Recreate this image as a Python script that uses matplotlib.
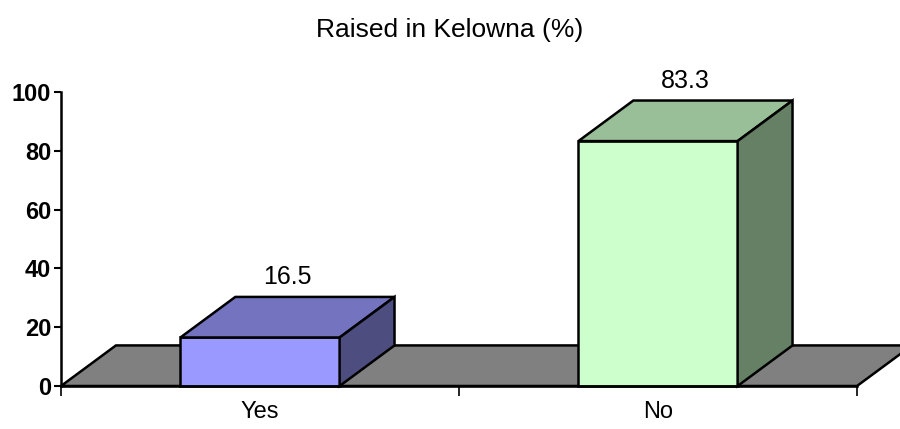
import matplotlib.pyplot as plt
from matplotlib.patches import Polygon, Rectangle

plt.rcParams['font.family'] = ['Liberation Sans', 'DejaVu Sans']

categories = ['Yes', 'No']
values = [16.5, 83.3]
front_colors = ['#9999FF', '#CCFFCC']
top_colors = ['#7373BF', '#99BF99']
side_colors = ['#4D4D80', '#668066']

fig = plt.figure(figsize=(9, 4.29), dpi=100)
ax = fig.add_axes([61 / 900, 43 / 429, 796 / 900, 294 / 429])
ax.set_xlim(0, len(categories))
ax.set_ylim(0, 100)

# depth of the 3d effect, in data units
dx = 0.138
dy = 13.8
lw = 1.8
bw = 0.4

floor = Polygon([(0, 0), (2, 0), (2 + dx, dy), (dx, dy)], closed=True,
                facecolor='#808080', edgecolor='black', lw=lw, clip_on=False, zorder=1)
ax.add_patch(floor)

for i, v in enumerate(values):
    x0 = i + 0.5 - bw / 2
    x1 = i + 0.5 + bw / 2
    ax.add_patch(Rectangle((x0, 0), bw, v, facecolor=front_colors[i], edgecolor='black',
                           lw=lw, clip_on=False, zorder=3))
    ax.add_patch(Polygon([(x0, v), (x1, v), (x1 + dx, v + dy), (x0 + dx, v + dy)], closed=True,
                         facecolor=top_colors[i], edgecolor='black', lw=lw, clip_on=False, zorder=3))
    ax.add_patch(Polygon([(x1, 0), (x1 + dx, dy), (x1 + dx, v + dy), (x1, v)], closed=True,
                         facecolor=side_colors[i], edgecolor='black', lw=lw, clip_on=False, zorder=3))
    ax.annotate(str(v), (i + 0.5 + dx / 2, v + dy), xytext=(0, 9), textcoords='offset points',
                ha='center', va='baseline', fontsize=18)

ax.spines['top'].set_visible(False)
ax.spines['right'].set_visible(False)
ax.spines['left'].set_linewidth(lw)
ax.spines['bottom'].set_linewidth(lw)
ax.spines['bottom'].set_zorder(4)

ax.set_yticks(range(0, 101, 20))
ax.set_yticklabels([str(t) for t in range(0, 101, 20)], fontsize=17, fontweight='bold')
ax.tick_params(axis='y', length=5, width=1.5, pad=2)

ax.set_xticks([0, 1, 2])
ax.set_xticklabels(['', '', ''])
ax.tick_params(axis='x', which='major', length=7, width=1.2, direction='out')
ax.set_xticks([0.5, 1.5], minor=True)
ax.set_xticklabels(categories, minor=True, fontsize=17)
ax.tick_params(axis='x', which='minor', length=0, pad=11)

fig.text(0.5, 1 - 30 / 429, 'Raised in Kelowna (%)', ha='center', va='center', fontsize=19)

fig.savefig('out.png', dpi=100)
